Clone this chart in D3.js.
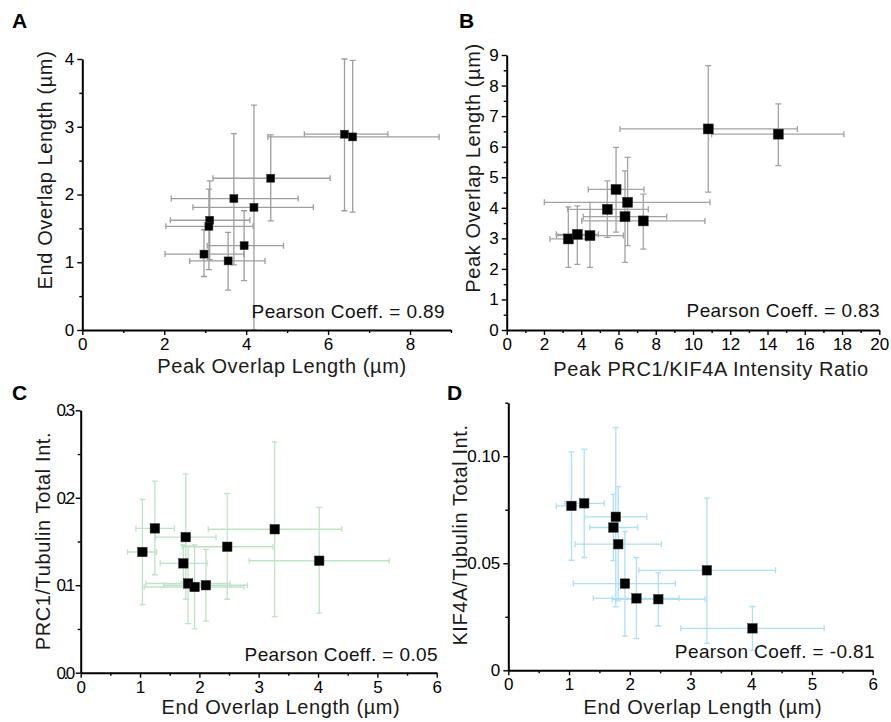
<!DOCTYPE html>
<html>
<head>
<meta charset="utf-8">
<script src="https://cdn.jsdelivr.net/npm/d3@7/dist/d3.min.js"></script>
<style>
body { margin: 0; background: #fff; }
svg { display: block; font-family: "Liberation Sans", Arial, sans-serif; }
.axis .domain { stroke: #000; stroke-width: 2px; }
.axis line { stroke: #000; stroke-width: 1.4px; }
.axis text { font-size: 17px; fill: #000; font-family: "Liberation Sans", Arial, sans-serif; }
.label { font-size: 20px; fill: #1a1a1a; letter-spacing: 0.6px; }
.pearson { font-size: 19px; fill: #111; letter-spacing: 0.4px; }
.letter { font-size: 21px; font-weight: bold; fill: #000; }
</style>
</head>
<body>
<script>
/* Data: A - peak vs end overlap length */
var peakLen     = [6.40, 6.60, 4.60, 3.70, 4.19, 3.11, 3.09, 3.95, 2.97, 3.56];
var peakLenLo   = [5.42, 4.53, 3.19, 2.17, 2.70, 2.15, 2.04, 3.05, 2.02, 2.62];
var peakLenHi   = [7.46, 8.71, 6.05, 5.27, 5.64, 4.09, 4.17, 4.91, 3.94, 4.46];
var endLenA     = [2.89, 2.85, 2.24, 1.94, 1.81, 1.62, 1.53, 1.245, 1.12, 1.02];
var endLenALo   = [1.76, 1.74, 1.61, 0.96, 0.00, 1.04, 0.89, 0.73, 0.79, 0.59];
var endLenAHi   = [4.00, 3.98, 2.88, 2.90, 3.32, 2.20, 2.08, 1.76, 1.48, 1.44];

/* Data: B - peak PRC1/KIF4A ratio vs peak overlap length */
var ratio       = [3.31, 3.79, 4.47, 5.40, 5.87, 6.49, 6.35, 7.33, 10.82, 14.58];
var ratioLo     = [2.32, 2.66, 2.68, 3.27, 4.38, 2.02, 4.11, 4.03, 6.08, 11.00];
var ratioHi     = [4.30, 4.92, 6.26, 7.60, 7.37, 10.91, 8.59, 10.64, 15.60, 18.10];
var peakLenB    = [2.98, 3.13, 3.09, 3.95, 4.60, 4.18, 3.71, 3.57, 6.58, 6.41];
var peakLenBLo  = [2.05, 2.15, 2.05, 3.03, 3.20, 2.76, 2.21, 2.65, 4.51, 5.38];
var peakLenBHi  = [4.03, 4.06, 4.18, 4.88, 5.98, 5.65, 5.21, 4.45, 8.65, 7.40];

/* Data: C and D share the end overlap length */
var endLen      = [1.04, 1.25, 1.77, 1.73, 1.81, 1.92, 2.11, 2.47, 3.27, 4.02];
var endLenLo    = [0.79, 0.93, 1.26, 1.34, 1.10, 1.07, 1.40, 1.71, 2.15, 2.84];
var endLenHi    = [1.28, 1.58, 2.28, 2.13, 2.52, 2.75, 2.81, 3.24, 4.40, 5.20];

var prc1Tub     = [0.138, 0.165, 0.155, 0.125, 0.102, 0.098, 0.100, 0.144, 0.164, 0.128];
var prc1TubLo   = [0.078, 0.112, 0.084, 0.104, 0.056, 0.050, 0.059, 0.084, 0.064, 0.068];
var prc1TubHi   = [0.198, 0.219, 0.227, 0.146, 0.145, 0.146, 0.141, 0.205, 0.264, 0.189];

var kif4aTub    = [0.0768, 0.0780, 0.0717, 0.0667, 0.0589, 0.0405, 0.0336, 0.0332, 0.0467, 0.0196];
var kif4aTubLo  = [0.0514, 0.0527, 0.0296, 0.0512, 0.0324, 0.0160, 0.0148, 0.0207, 0.0126, 0.0093];
var kif4aTubHi  = [0.1020, 0.1033, 0.1134, 0.0822, 0.0858, 0.0648, 0.0527, 0.0456, 0.0804, 0.0298];

var pearson     = ["0.89", "0.83", "0.05", "-0.81"];

/* Measures */
var W = 891,
    H = 722;

var MAJOR_TICK = 5,
    MINOR_TICK = 3,
    CAP_HALF   = 3;

function zip(x, xLo, xHi, y, yLo, yHi) {
	return x.map(function(d, i) {
		return {x: d, xLo: xLo[i], xHi: xHi[i], y: y[i], yLo: yLo[i], yHi: yHi[i]};
	});
}

var panels = [
	{ letter: "A", letterPos: [12, 28],
	  xRange: [82.3, 451], yRange: [330, 59],
	  xDomain: [0, 9], yDomain: [0, 4],
	  xMajor: d3.range(0, 9, 2), xMinor: d3.range(1, 10, 2),
	  yMajor: d3.range(0, 5, 1), yMinor: d3.range(0.5, 4, 1),
	  xLabel: "Peak Overlap Length (\u00b5m)", xLabelPos: [282, 373],
	  yLabel: "End Overlap Length (\u00b5m)", yLabelPos: [52, 170],
	  pearsonPos: [445, 318], pearson: pearson[0],
	  color: "#9e9e9e", marker: 8,
	  points: zip(peakLen, peakLenLo, peakLenHi, endLenA, endLenALo, endLenAHi) },
	{ letter: "B", letterPos: [459, 28],
	  xRange: [506.7, 879.3], yRange: [330, 55],
	  xDomain: [0, 20], yDomain: [0, 9],
	  xMajor: d3.range(0, 21, 2), xMinor: d3.range(1, 20, 2),
	  yMajor: d3.range(0, 10, 1), yMinor: d3.range(0.5, 9, 1),
	  xLabel: "Peak PRC1/KIF4A Intensity Ratio", xLabelPos: [711, 376],
	  yLabel: "Peak Overlap Length (\u00b5m)", yLabelPos: [480, 168],
	  pearsonPos: [880, 317], pearson: pearson[1],
	  color: "#a3a3a3", marker: 10,
	  points: zip(ratio, ratioLo, ratioHi, peakLenB, peakLenBLo, peakLenBHi) },
	{ letter: "C", letterPos: [12, 400],
	  xRange: [80.7, 436.7], yRange: [672.7, 410.3],
	  xDomain: [0, 6], yDomain: [0, 0.3],
	  xMajor: d3.range(0, 7, 1), xMinor: d3.range(0.5, 6, 1),
	  yMajor: [0, 0.1, 0.2, 0.3], yMinor: [0.05, 0.15, 0.25],
	  yFormat: d3.format(".1f"), ySqueeze: true,
	  xLabel: "End Overlap Length (\u00b5m)", xLabelPos: [281, 714],
	  yLabel: "PRC1/Tubulin Total Int.", yLabelPos: [50, 541],
	  pearsonPos: [438, 661], pearson: pearson[2],
	  color: "#bfe3c7", marker: 9.5,
	  points: zip(endLen, endLenLo, endLenHi, prc1Tub, prc1TubLo, prc1TubHi) },
	{ letter: "D", letterPos: [447, 400],
	  xRange: [508.3, 872.7], yRange: [670.3, 402.7],
	  xDomain: [0, 6], yDomain: [0, 0.125],
	  xMajor: d3.range(0, 7, 1), xMinor: d3.range(0.5, 6, 1),
	  yMajor: [0, 0.05, 0.1], yMinor: [0.025, 0.075, 0.125],
	  yFormat: function(d) { return d === 0 ? "0" : d3.format(".2f")(d); },
	  xLabel: "End Overlap Length (\u00b5m)", xLabelPos: [703, 714],
	  yLabel: "KIF4A/Tubulin Total Int.", yLabelPos: [467, 535],
	  pearsonPos: [875, 658], pearson: pearson[3],
	  color: "#afdff6", marker: 9.5,
	  points: zip(endLen, endLenLo, endLenHi, kif4aTub, kif4aTubLo, kif4aTubHi) }
];

var svg = d3.select("body").append("svg")
	.attr("width", W)
	.attr("height", H);

function drawPanel(p) {
	var x = d3.scaleLinear().domain(p.xDomain).range(p.xRange),
	    y = d3.scaleLinear().domain(p.yDomain).range(p.yRange);

	var g = svg.append("g").attr("class", "panel panel" + p.letter);

	/* error bars */
	var bars = g.append("g")
		.attr("stroke", p.color)
		.attr("stroke-width", 1.3)
		.attr("fill", "none");

	bars.selectAll("path.h")
		.data(p.points)
		.enter().append("path")
		.attr("class", "h")
		.attr("d", function(d) {
			var x0 = x(d.xLo), x1 = x(d.xHi), yy = y(d.y);
			return "M" + x0 + "," + yy + "H" + x1
				+ "M" + x0 + "," + (yy - CAP_HALF) + "V" + (yy + CAP_HALF)
				+ "M" + x1 + "," + (yy - CAP_HALF) + "V" + (yy + CAP_HALF);
		});

	bars.selectAll("path.v")
		.data(p.points)
		.enter().append("path")
		.attr("class", "v")
		.attr("d", function(d) {
			var y0 = y(d.yLo), y1 = y(d.yHi), xx = x(d.x);
			return "M" + xx + "," + y0 + "V" + y1
				+ "M" + (xx - CAP_HALF) + "," + y0 + "H" + (xx + CAP_HALF)
				+ "M" + (xx - CAP_HALF) + "," + y1 + "H" + (xx + CAP_HALF);
		});

	/* square markers */
	g.append("g").selectAll("rect")
		.data(p.points)
		.enter().append("rect")
		.attr("x", function(d) { return x(d.x) - p.marker / 2; })
		.attr("y", function(d) { return y(d.y) - p.marker / 2; })
		.attr("width", p.marker)
		.attr("height", p.marker)
		.attr("fill", "#000")
		.attr("stroke", "#333")
		.attr("stroke-width", 0.5);

	/* axes */
	var baseY = p.yRange[0], baseX = p.xRange[0];

	g.append("g")
		.attr("class", "axis")
		.attr("transform", "translate(0," + baseY + ")")
		.call(d3.axisBottom(x).tickValues(p.xMinor).tickSize(MINOR_TICK).tickFormat(""))
		.select(".domain").remove();

	g.append("g")
		.attr("class", "axis")
		.attr("transform", "translate(" + baseX + ",0)")
		.call(d3.axisLeft(y).tickValues(p.yMinor).tickSize(MINOR_TICK).tickFormat(""))
		.select(".domain").remove();

	g.append("g")
		.attr("class", "axis")
		.attr("transform", "translate(0," + baseY + ")")
		.call(d3.axisBottom(x).tickValues(p.xMajor).tickSize(MAJOR_TICK).tickSizeOuter(0).tickPadding(3).tickFormat(d3.format("d")));

	var yAxis = g.append("g")
		.attr("class", "axis")
		.attr("transform", "translate(" + baseX + ",0)")
		.call(d3.axisLeft(y).tickValues(p.yMajor).tickSize(MAJOR_TICK).tickSizeOuter(0).tickPadding(3)
			.tickFormat(p.yFormat || d3.format("d")));
	if (p.ySqueeze) yAxis.selectAll("text").attr("letter-spacing", "-2.5px");

	/* texts */
	g.append("text")
		.attr("class", "letter")
		.attr("x", p.letterPos[0])
		.attr("y", p.letterPos[1])
		.text(p.letter);

	g.append("text")
		.attr("class", "label")
		.attr("text-anchor", "middle")
		.attr("x", p.xLabelPos[0])
		.attr("y", p.xLabelPos[1])
		.text(p.xLabel);

	g.append("text")
		.attr("class", "label")
		.attr("text-anchor", "middle")
		.attr("transform", "translate(" + p.yLabelPos[0] + "," + p.yLabelPos[1] + ") rotate(-90)")
		.text(p.yLabel);

	g.append("text")
		.attr("class", "pearson")
		.attr("text-anchor", "end")
		.attr("x", p.pearsonPos[0])
		.attr("y", p.pearsonPos[1])
		.text("Pearson Coeff. = " + p.pearson);
}

panels.forEach(drawPanel);
</script>
</body>
</html>
